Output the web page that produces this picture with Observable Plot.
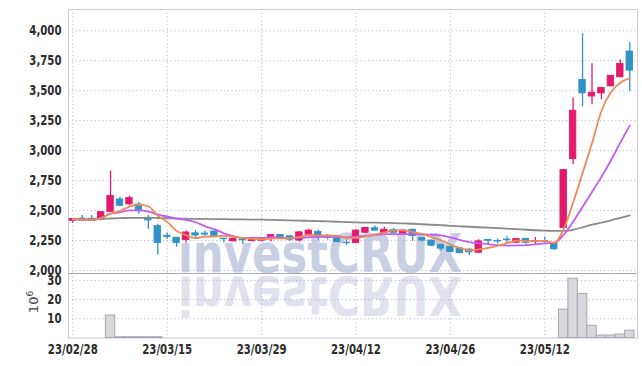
<!DOCTYPE html>
<html><head><meta charset="utf-8">
<script src="https://cdn.jsdelivr.net/npm/d3@7"></script>
<script src="https://cdn.jsdelivr.net/npm/@observablehq/plot@0.6"></script>
<style>
body{margin:0;background:#fff;}
#wrap{position:relative;width:642px;height:366px;overflow:hidden;background:#fff;}
#wm{position:absolute;left:0;top:0;}
#plots{position:absolute;left:0;top:0;}
#plots svg{display:block;}
</style></head><body>
<div id="wrap">
<svg id="wm" width="642" height="366">
  <text x="178" y="272" font-family="DejaVu Sans" font-weight="bold" font-size="53" textLength="284" lengthAdjust="spacingAndGlyphs" fill="#c8cfe3">investCRUX</text>
  <text x="178" y="272" font-family="DejaVu Sans" font-weight="bold" font-size="53" textLength="284" lengthAdjust="spacingAndGlyphs" fill="#e0e3ee" transform="translate(0,549) scale(1,-1)">investCRUX</text>
  <text transform="translate(38,302) rotate(-90)" text-anchor="middle" font-family="DejaVu Sans" font-size="13" fill="#444">10<tspan dy="-5" font-size="9">6</tspan></text>
</svg>
<div id="plots"></div>
</div>
<script>
const dates = ["23/02/28","23/03/02","23/03/03","23/03/06","23/03/07","23/03/08","23/03/09","23/03/10","23/03/13","23/03/14",
"23/03/15","23/03/16","23/03/17","23/03/20","23/03/21","23/03/22","23/03/23","23/03/24","23/03/27","23/03/28",
"23/03/29","23/03/30","23/03/31","23/04/03","23/04/04","23/04/05","23/04/06","23/04/07","23/04/10","23/04/11",
"23/04/12","23/04/13","23/04/14","23/04/17","23/04/18","23/04/19","23/04/20","23/04/21","23/04/24","23/04/25",
"23/04/26","23/04/27","23/04/28","23/05/02","23/05/03","23/05/04","23/05/08","23/05/09","23/05/10","23/05/11",
"23/05/12","23/05/15","23/05/16","23/05/17","23/05/18","23/05/19","23/05/22","23/05/23","23/05/24","23/05/25"];
const opens = [2415,2433,2432,2425,2490,2593,2552,2550,2440,2370,
2290,2273,2255,2310,2308,2325,2266,2243,2258,2245,
2248,2268,2296,2285,2250,2300,2322,2278,2285,2232,
2228,2315,2352,2312,2338,2308,2340,2270,2250,2215,
2195,2185,2175,2148,2255,2246,2258,2232,2264,2238,
2246,2228,2355,2930,3590,3452,3478,3537,3612,3827];
const highs = [2435,2460,2458,2490,2830,2612,2620,2568,2460,2385,
2312,2275,2330,2333,2330,2330,2268,2264,2262,2265,
2268,2300,2300,2290,2327,2345,2335,2300,2290,2255,
2340,2360,2372,2360,2350,2340,2345,2275,2255,2220,
2200,2190,2180,2256,2258,2262,2282,2265,2268,2275,
2280,2232,2840,3440,3975,3725,3525,3628,3757,3902];
const lows = [2395,2410,2408,2420,2485,2535,2540,2470,2345,2130,
2258,2195,2228,2272,2285,2278,2232,2240,2215,2240,
2245,2238,2268,2242,2237,2295,2252,2255,2235,2210,
2225,2310,2330,2308,2310,2300,2243,2240,2200,2160,
2150,2140,2125,2145,2215,2220,2222,2228,2220,2215,
2230,2170,2350,2885,3365,3383,3425,3533,3610,3492];
const closes = [2430,2418,2415,2487,2623,2540,2604,2495,2418,2230,
2280,2230,2315,2292,2300,2282,2262,2262,2252,2262,
2263,2295,2272,2257,2318,2333,2286,2274,2237,2228,
2333,2355,2333,2340,2315,2333,2287,2250,2207,2183,
2155,2145,2152,2243,2248,2242,2254,2262,2232,2246,
2240,2177,2838,3333,3478,3483,3523,3625,3724,3668];
// 60-day moving average (includes history before the window)
const ma60 = [2425,2427,2428,2430,2434,2437,2439,2440,2440,2438,
2436,2434,2432,2431,2430,2429,2428,2427,2426,2425,
2424,2422,2420,2418,2416,2414,2412,2410,2407,2404,
2401,2400,2399,2398,2396,2393,2390,2386,2382,2378,
2373,2369,2365,2361,2357,2353,2349,2345,2340,2336,
2333,2330,2330,2340,2360,2382,2400,2418,2440,2460];
// volume in millions
const volumes = [0.1,0.1,0.1,0.1,11.7,0.4,0.4,0.4,0.4,0.4,
0.1,0.1,0.1,0.1,0.1,0.1,0.1,0.1,0.1,0.1,
0.1,0.1,0.1,0.1,0.1,0.1,0.1,0.1,0.1,0.1,
0.1,0.1,0.1,0.1,0.1,0.1,0.1,0.1,0.1,0.1,
0.1,0.1,0.1,0.1,0.1,0.1,0.1,0.1,0.1,0.1,
0.1,0.2,14.8,30.9,23.0,6.4,1.3,1.3,1.8,3.8];
const priceTicks = [2000,2250,2500,2750,3000,3250,3500,3750,4000];
const volTicks = [10,20,30];
const xTicks = [0,10,20,30,40,50];

const RED = "#e3196c", BLUE = "#2f93c7";
const rows = dates.map((d, i) => ({i, date: d, open: opens[i], high: highs[i], low: lows[i], close: closes[i],
  ma60: ma60[i], vol: volumes[i], dir: closes[i] >= opens[i] ? "up" : "down"}));
const xDomain = [-0.455, 59.82];
const grid = {stroke: "#b5bacb", strokeDasharray: "1.2,2.6", strokeWidth: 1};
const baseStyle = {background: "transparent", fontFamily: "'DejaVu Sans Condensed','DejaVu Sans',sans-serif",
  fontSize: "14.5px", fontWeight: "bold", color: "#2b2b2b", overflow: "visible"};

const price = Plot.plot({
  width: 642, height: 273, marginLeft: 68, marginRight: 5, marginTop: 9, marginBottom: 0,
  style: baseStyle,
  x: {type: "linear", domain: xDomain, axis: null},
  y: {domain: [1975, 4178], ticks: priceTicks, tickFormat: d3.format(","), tickSize: 0, tickPadding: 7, label: null},
  color: {domain: ["up", "down"], range: [RED, BLUE]},
  marks: [
    Plot.ruleY(priceTicks, grid),
    Plot.ruleX(xTicks, grid),
    Plot.frame({stroke: "#c9ccd9"}),
    Plot.ruleX(rows, {x: "i", y1: "low", y2: "high", stroke: "dir", strokeWidth: 1.3}),
    Plot.rect(rows, {x1: d => d.i - 0.34, x2: d => d.i + 0.34, y1: "open", y2: "close", fill: "dir", stroke: "dir", strokeWidth: 0.9}),
    Plot.line(rows, {x: "i", y: "ma60", stroke: "#8b8b8b", strokeWidth: 1.8, curve: "monotone-x"}),
    Plot.line(rows, Plot.windowY({k: 10, anchor: "end", reduce: "mean", strict: false}, {x: "i", y: "close", stroke: "#c45cf0", strokeWidth: 1.8, curve: "monotone-x"})),
    Plot.line(rows, Plot.windowY({k: 5, anchor: "end", reduce: "mean", strict: false}, {x: "i", y: "close", stroke: "#ee8a57", strokeWidth: 1.8, curve: "monotone-x"}))
  ]
});

const vol = Plot.plot({
  width: 642, height: 93, marginLeft: 68, marginRight: 5, marginTop: 0, marginBottom: 28.5,
  style: baseStyle,
  x: {type: "linear", domain: xDomain, ticks: xTicks, tickFormat: i => dates[i], tickSize: 0, tickPadding: 6, label: null},
  y: {domain: [0, 33.6], ticks: volTicks, tickSize: 0, tickPadding: 7, label: null},
  marks: [
    Plot.ruleY(volTicks, grid),
    Plot.ruleX(xTicks, grid),
    Plot.frame({stroke: "#c9ccd9"}),
    Plot.rect(rows.filter(d => d.vol >= 0.3), {x1: d => d.i - 0.5, x2: d => d.i + 0.5, y1: 0, y2: "vol", fill: "#d7d7dc", stroke: "#a6a6ae", strokeWidth: 1}),
    Plot.ruleY([33.6], {stroke: "#a8a9b2", strokeWidth: 1.2})
  ]
});

// narrow the tick labels horizontally (condensed look of the original)
for (const svg of [price, vol]) {
  svg.querySelectorAll("text").forEach(t => {
    const tr = t.getAttribute("transform");
    t.setAttribute("transform", (tr ? tr + " " : "") + "scale(0.78,1)");
  });
}

document.getElementById("plots").append(price, vol);
</script>
</body></html>
